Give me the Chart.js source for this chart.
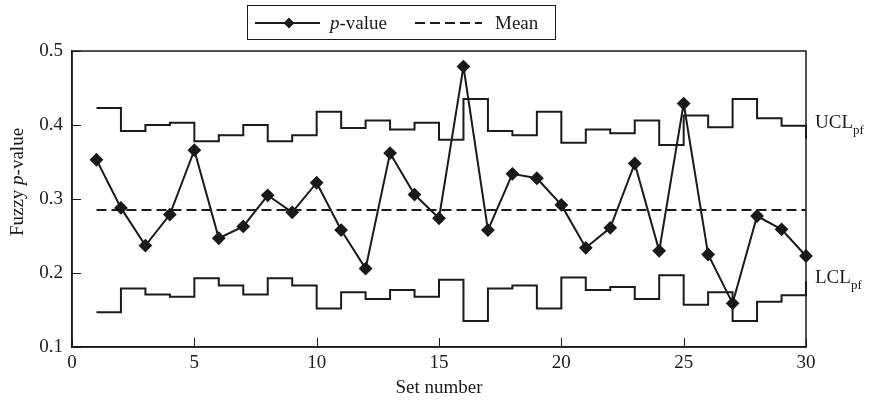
<!DOCTYPE html>
<html>
<head>
<meta charset="utf-8">
<script src="https://cdn.jsdelivr.net/npm/chart.js@4/dist/chart.umd.min.js"></script>
<style>
	html, body { margin: 0; padding: 0; background: #fff; }
	#wrap { width: 871px; height: 406px; }
</style>
</head>
<body>
<div id="wrap"><canvas id="fuzzyChart"></canvas></div>
<script>
// data
const setNumbers = [1,2,3,4,5,6,7,8,9,10,11,12,13,14,15,16,17,18,19,20,21,22,23,24,25,26,27,28,29,30];
const pValues = [0.353, 0.288, 0.237, 0.279, 0.366, 0.247, 0.263, 0.305, 0.282, 0.322,
	0.258, 0.206, 0.362, 0.306, 0.274, 0.479, 0.258, 0.334, 0.328, 0.292,
	0.234, 0.261, 0.348, 0.230, 0.429, 0.225, 0.159, 0.277, 0.259, 0.223];
const uclValues = [0.423, 0.392, 0.400, 0.403, 0.378, 0.386, 0.400, 0.378, 0.386, 0.418,
	0.396, 0.406, 0.394, 0.403, 0.380, 0.435, 0.392, 0.386, 0.418, 0.376,
	0.394, 0.389, 0.406, 0.373, 0.413, 0.397, 0.435, 0.409, 0.399, 0.381];
const lclValues = [0.147, 0.179, 0.171, 0.168, 0.193, 0.183, 0.171, 0.193, 0.183, 0.152,
	0.174, 0.165, 0.177, 0.168, 0.191, 0.135, 0.179, 0.183, 0.152, 0.194,
	0.177, 0.181, 0.165, 0.197, 0.157, 0.174, 0.135, 0.161, 0.170, 0.189];
const meanValue = 0.285;
const xTicks = [0, 5, 10, 15, 20, 25, 30];
const yTicks = [0.1, 0.2, 0.3, 0.4, 0.5];

const ink = '#1a1a1a';
const serif = "'Liberation Serif', 'Times New Roman', serif";

function toPoints(xs, ys){
	return xs.map((x, i) => ({x: x, y: ys[i]}));
}

// draws frame, inward ticks, legend, y title and UCL/LCL labels
const decorations = {
	id: 'decorations',
	afterDraw(chart){
		const ctx = chart.ctx;
		const area = chart.chartArea;
		const xs = chart.scales.x;
		const ys = chart.scales.y;
		ctx.save();
		ctx.strokeStyle = ink;
		ctx.fillStyle = ink;
		ctx.lineWidth = 1.5;
		ctx.strokeRect(area.left, area.top, area.right - area.left, area.bottom - area.top);

		// inward tick marks
		ctx.lineWidth = 1;
		ctx.beginPath();
		xTicks.forEach(v => {
			const px = Math.round(xs.getPixelForValue(v)) + 0.5;
			ctx.moveTo(px, area.bottom);
			ctx.lineTo(px, area.bottom - 9);
		});
		yTicks.forEach(v => {
			const py = Math.round(ys.getPixelForValue(v)) + 0.5;
			ctx.moveTo(area.left, py);
			ctx.lineTo(area.left + 9, py);
		});
		ctx.stroke();

		// y axis title
		ctx.save();
		ctx.translate(18, 182);
		ctx.rotate(-Math.PI / 2);
		ctx.textBaseline = 'middle';
		const parts = [['Fuzzy ', 'normal'], ['p', 'italic'], ['-value', 'normal']];
		let total = 0;
		parts.forEach(p => { ctx.font = p[1] + ' 19px ' + serif; total += ctx.measureText(p[0]).width; });
		let cx = -total / 2;
		parts.forEach(p => {
			ctx.font = p[1] + ' 19px ' + serif;
			ctx.fillText(p[0], cx, 0);
			cx += ctx.measureText(p[0]).width;
		});
		ctx.restore();

		// UCL / LCL labels
		function limitLabel(text, value){
			const py = ys.getPixelForValue(value);
			ctx.textBaseline = 'alphabetic';
			ctx.font = '19px ' + serif;
			ctx.fillText(text, area.right + 9, py + 2);
			const w = ctx.measureText(text).width;
			ctx.font = '13px ' + serif;
			ctx.fillText('pf', area.right + 9 + w, py + 8);
		}
		limitLabel('UCL', uclValues[uclValues.length - 2]);
		limitLabel('LCL', lclValues[lclValues.length - 1]);

		// legend
		ctx.lineWidth = 1;
		ctx.strokeRect(247.5, 5.5, 308, 34);
		const ly = 23;
		ctx.lineWidth = 2;
		ctx.beginPath();
		ctx.moveTo(255, ly);
		ctx.lineTo(320, ly);
		ctx.stroke();
		ctx.beginPath();
		ctx.moveTo(289, ly - 5.5);
		ctx.lineTo(294.5, ly);
		ctx.lineTo(289, ly + 5.5);
		ctx.lineTo(283.5, ly);
		ctx.closePath();
		ctx.fill();
		ctx.textBaseline = 'middle';
		ctx.font = 'italic 19px ' + serif;
		ctx.fillText('p', 330, ly + 1);
		const pw = ctx.measureText('p').width;
		ctx.font = '19px ' + serif;
		ctx.fillText('-value', 330 + pw, ly + 1);
		ctx.setLineDash([10, 5]);
		ctx.beginPath();
		ctx.moveTo(415, ly);
		ctx.lineTo(482, ly);
		ctx.stroke();
		ctx.setLineDash([]);
		ctx.fillText('Mean', 495, ly + 1);
		ctx.restore();
	}
};

const graphData = {
	datasets: [{
		label: 'p-value',
		data: toPoints(setNumbers, pValues),
		borderColor: ink,
		backgroundColor: ink,
		borderWidth: 2,
		pointStyle: 'rectRot',
		pointRadius: 5.5,
		pointHoverRadius: 5.5,
		tension: 0,
		clip: false
	},
	{
		label: 'Mean',
		data: [{x: setNumbers[0], y: meanValue}, {x: setNumbers[setNumbers.length - 1], y: meanValue}],
		borderColor: ink,
		borderWidth: 2,
		borderDash: [10, 5],
		pointRadius: 0
	},
	{
		label: 'UCL',
		data: toPoints(setNumbers, uclValues),
		borderColor: ink,
		borderWidth: 2,
		stepped: 'before',
		pointRadius: 0,
		clip: false
	},
	{
		label: 'LCL',
		data: toPoints(setNumbers, lclValues),
		borderColor: ink,
		borderWidth: 2,
		stepped: 'before',
		pointRadius: 0,
		clip: false
	}]
};

const config = {
	type: 'line',
	data: graphData,
	options: {
		responsive: true,
		maintainAspectRatio: false,
		animation: false,
		layout: { padding: { top: 51, right: 65, left: 0, bottom: 0 } },
		plugins: {
			legend: { display: false },
			tooltip: { enabled: false }
		},
		scales: {
			x: {
				type: 'linear',
				min: 0,
				max: 30,
				afterFit: (scale) => { scale.height = 59; },
				afterBuildTicks: (scale) => { scale.ticks = xTicks.map(v => ({value: v})); },
				grid: { display: false, drawTicks: false },
				border: { display: true, color: ink, width: 1.5 },
				ticks: { color: ink, padding: 5, font: { family: serif, size: 19 }, maxRotation: 0 },
				title: {
					display: true,
					text: 'Set number',
					color: ink,
					font: { family: serif, size: 19 },
					padding: { top: 0, bottom: 7 }
				}
			},
			y: {
				min: 0.1,
				max: 0.5,
				afterFit: (scale) => { scale.width = 72; },
				afterBuildTicks: (scale) => { scale.ticks = yTicks.map(v => ({value: v})); },
				grid: { display: false, drawTicks: false },
				border: { display: true, color: ink, width: 1.5 },
				ticks: {
					color: ink,
					padding: 9,
					font: { family: serif, size: 19 },
					callback: (v) => Number(v).toFixed(1)
				}
			}
		}
	},
	plugins: [decorations]
};

new Chart(document.getElementById('fuzzyChart'), config);
</script>
</body>
</html>
